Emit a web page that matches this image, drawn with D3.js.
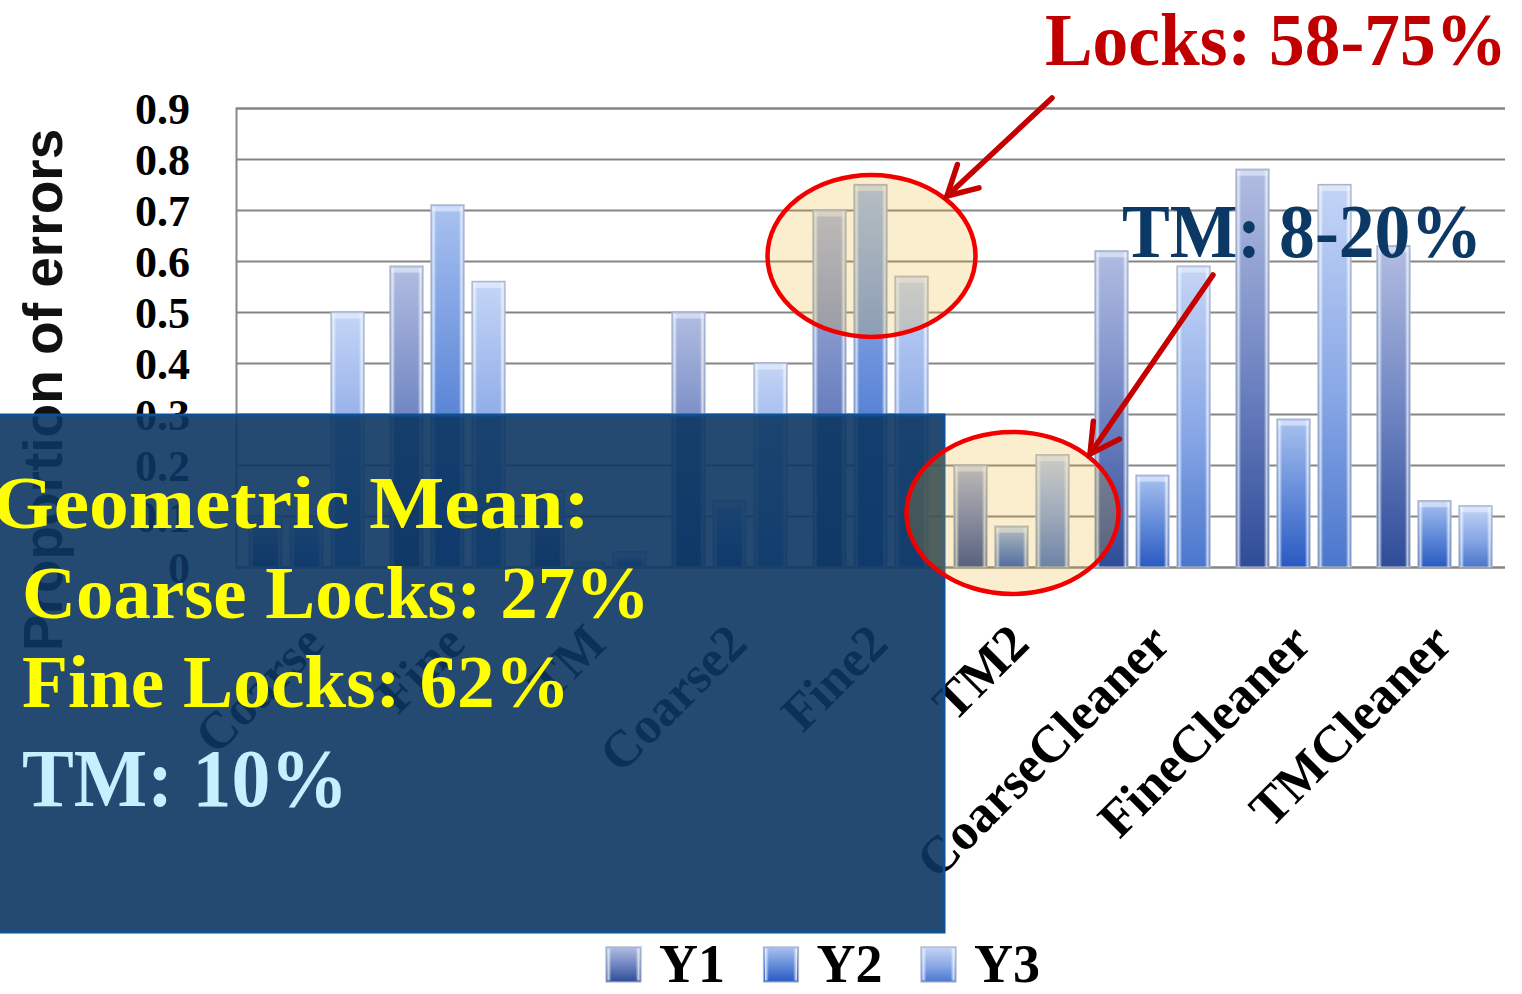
<!DOCTYPE html>
<html>
<head>
<meta charset="utf-8">
<script src="https://cdn.jsdelivr.net/npm/d3@7"></script>
<style>
  html, body { margin: 0; padding: 0; background: #ffffff; overflow: hidden; }
  svg { display: block; }
</style>
</head>
<body>
<svg id="chart" width="1522" height="994"></svg>
<script>
// ---- data ----
const categories = ["Coarse", "Fine", "TM", "Coarse2", "Fine2", "TM2", "CoarseCleaner", "FineCleaner", "TMCleaner"];
const seriesNames = ["Y1", "Y2", "Y3"];
const y1Values = [0.10, 0.59, 0.15, 0.50, 0.70, 0.20, 0.62, 0.78, 0.63];
const y2Values = [0.10, 0.71, 0.01, 0.13, 0.75, 0.08, 0.18, 0.29, 0.13];
const y3Values = [0.50, 0.56, 0.03, 0.40, 0.57, 0.22, 0.59, 0.75, 0.12];
const yTicks = [0, 0.1, 0.2, 0.3, 0.4, 0.5, 0.6, 0.7, 0.8, 0.9];
const yTickLabels = ["0", "0.1", "0.2", "0.3", "0.4", "0.5", "0.6", "0.7", "0.8", "0.9"];
const yTitle = "Proportion of errors";
const meanLines = ["Geometric Mean:", "Coarse Locks: 27%", "Fine Locks: 62%", "TM: 10%"];
const locksNote = "Locks: 58-75%";
const tmNote = "TM: 8-20%";

const seriesValues = [y1Values, y2Values, y3Values];
const rows = categories.map((c, i) => ({
  category: c,
  values: seriesNames.map((s, k) => ({ series: s, value: seriesValues[k][i] }))
}));

// ---- layout ----
const svg = d3.select("#chart");
const plot = { left: 236, right: 1505, top: 108, bottom: 567 };

const x0 = d3.scaleBand().domain(categories)
  .range([plot.left, plot.right]).paddingInner(0.184).paddingOuter(0.092);
const x1 = d3.scaleBand().domain(seriesNames)
  .range([0, x0.bandwidth()]).paddingInner(0.195).paddingOuter(0);
const y = d3.scaleLinear().domain([0, 0.9]).range([plot.bottom, plot.top]);

const serif = "'Liberation Serif', 'DejaVu Serif', serif";
const sans = "'Liberation Sans', Arial, sans-serif";

// ---- gradients for bar fills ----
const defs = svg.append("defs");
const gradStops = {
  Y1: ["#b2bde2", "#6a80bf", "#2f4c98"],
  Y2: ["#a9c2f0", "#5f88d8", "#2a5ac2"],
  Y3: ["#c5d5f6", "#88a7e6", "#4a76cc"]
};
seriesNames.forEach(s => {
  const g = defs.append("linearGradient").attr("id", "grad-" + s)
    .attr("x1", 0).attr("y1", 0).attr("x2", 0).attr("y2", 1);
  g.append("stop").attr("offset", "0%").attr("stop-color", gradStops[s][0]);
  g.append("stop").attr("offset", "55%").attr("stop-color", gradStops[s][1]);
  g.append("stop").attr("offset", "100%").attr("stop-color", gradStops[s][2]);
});
const edgeGrad = defs.append("linearGradient").attr("id", "edge")
  .attr("x1", 0).attr("y1", 0).attr("x2", 1).attr("y2", 0);
edgeGrad.append("stop").attr("offset", "0%").attr("stop-color", "#e8f6ff").attr("stop-opacity", 0.95);
edgeGrad.append("stop").attr("offset", "12%").attr("stop-color", "#ffffff").attr("stop-opacity", 0);
edgeGrad.append("stop").attr("offset", "88%").attr("stop-color", "#ffffff").attr("stop-opacity", 0);
edgeGrad.append("stop").attr("offset", "100%").attr("stop-color", "#f4f8ff").attr("stop-opacity", 0.95);

// ---- background ----
svg.append("rect").attr("width", 1522).attr("height", 994).attr("fill", "#ffffff");

// ---- grid and axis ----
const yAxis = d3.axisLeft(y).tickValues(yTicks)
  .tickSize(-(plot.right - plot.left)).tickFormat((d, i) => yTickLabels[i]).tickPadding(46);
const gAxis = svg.append("g").attr("transform", `translate(${plot.left},0)`).call(yAxis);
gAxis.select(".domain").attr("stroke", "#8a8a8a").attr("stroke-width", 2);
gAxis.selectAll(".tick line").attr("stroke", "#858585").attr("stroke-width", 2);
gAxis.selectAll(".tick text")
  .attr("font-family", serif).attr("font-weight", "bold").attr("font-size", 44)
  .attr("fill", "#000").attr("dy", "0.36em");

// ---- bars ----
const groups = svg.append("g").selectAll("g").data(rows).join("g")
  .attr("transform", d => `translate(${x0(d.category)},0)`);
const bars = groups.selectAll("g").data(d => d.values).join("g");
bars.append("rect")
  .attr("x", d => x1(d.series)).attr("y", d => y(d.value))
  .attr("width", x1.bandwidth()).attr("height", d => y(0) - y(d.value))
  .attr("fill", d => `url(#grad-${d.series})`)
  .attr("stroke", "#a9b4c8").attr("stroke-width", 1.2);
bars.append("rect")
  .attr("x", d => x1(d.series) + 1.5).attr("y", d => y(d.value) + 1.5)
  .attr("width", x1.bandwidth() - 3).attr("height", d => Math.max(0, y(0) - y(d.value) - 1.5))
  .attr("fill", "url(#edge)");
bars.append("rect")
  .attr("x", d => x1(d.series) + 1.5).attr("y", d => y(d.value) + 1.5)
  .attr("width", x1.bandwidth() - 3).attr("height", d => Math.min(5, Math.max(0, y(0) - y(d.value) - 1.5)))
  .attr("fill", "#eef4ff").attr("opacity", 0.55);

// ---- category labels ----
svg.append("g").selectAll("text").data(categories).join("text")
  .attr("transform", d => `translate(${x0(d) + x0.bandwidth() / 2 + 20},646) rotate(-45)`)
  .attr("text-anchor", "end")
  .attr("font-family", serif).attr("font-weight", "bold").attr("font-size", 52)
  .attr("fill", "#000").text(d => d);

// ---- y title ----
svg.append("text")
  .attr("transform", "translate(62,390) rotate(-90)")
  .attr("text-anchor", "middle")
  .attr("font-family", sans).attr("font-weight", "bold").attr("font-size", 55)
  .attr("fill", "#111").text(yTitle);

// ---- summary panel ----
svg.append("rect")
  .attr("x", -3).attr("y", 415).attr("width", 947).attr("height", 517)
  .attr("fill", "rgb(12,54,98)").attr("fill-opacity", 0.9)
  .attr("stroke", "#0f4f94").attr("stroke-width", 3);

const meanSpec = [
  { x: -8, y: 528, size: 74, len: 598, color: "#ffff00" },
  { x: 22, y: 618, size: 74, len: 628, color: "#ffff00" },
  { x: 22, y: 707, size: 74, len: 548, color: "#ffff00" },
  { x: 22, y: 806, size: 82, len: 326, color: "#c6f0ff" }
];
svg.append("g").selectAll("text").data(meanLines).join("text")
  .attr("x", (d, i) => meanSpec[i].x).attr("y", (d, i) => meanSpec[i].y)
  .attr("font-family", serif).attr("font-weight", "bold")
  .attr("font-size", (d, i) => meanSpec[i].size)
  .attr("textLength", (d, i) => meanSpec[i].len).attr("lengthAdjust", "spacingAndGlyphs")
  .attr("fill", (d, i) => meanSpec[i].color).text(d => d);

// ---- highlight ellipses around the Fine2 and TM2 groups ----
const highlight = [
  { cat: "Fine2", cy: 0.610, rx: 104, ry: 81 },
  { cat: "TM2", cy: 0.106, rx: 106, ry: 81 }
];
svg.append("g").selectAll("ellipse").data(highlight).join("ellipse")
  .attr("cx", d => x0(d.cat) + x0.bandwidth() / 2 + 1)
  .attr("cy", d => y(d.cy))
  .attr("rx", d => d.rx).attr("ry", d => d.ry)
  .attr("fill", "#e9b21e").attr("fill-opacity", 0.22)
  .attr("stroke", "#f20000").attr("stroke-width", 4.5);

// ---- arrows ----
function arrow(x1a, y1a, x2a, y2a) {
  const g = svg.append("g").attr("stroke", "#c40000").attr("stroke-width", 5.5)
    .attr("stroke-linecap", "round").attr("fill", "none");
  g.append("line").attr("x1", x1a).attr("y1", y1a).attr("x2", x2a).attr("y2", y2a);
  const ang = Math.atan2(y1a - y2a, x1a - x2a);
  const L = 33, spread = 0.5;
  const pts = [
    [x2a + L * Math.cos(ang + spread), y2a + L * Math.sin(ang + spread)],
    [x2a, y2a],
    [x2a + L * Math.cos(ang - spread), y2a + L * Math.sin(ang - spread)]
  ];
  g.append("path").attr("d", d3.line()(pts)).attr("stroke-linejoin", "miter");
}
arrow(1052, 98, 947, 196);
arrow(1213, 275, 1090, 454);

// ---- notes ----
svg.append("text").attr("x", 1045).attr("y", 65)
  .attr("font-family", serif).attr("font-weight", "bold").attr("font-size", 74)
  .attr("textLength", 462).attr("lengthAdjust", "spacingAndGlyphs")
  .attr("fill", "#c00000").text(locksNote);
svg.append("text").attr("x", 1122).attr("y", 257)
  .attr("font-family", serif).attr("font-weight", "bold").attr("font-size", 76)
  .attr("textLength", 360).attr("lengthAdjust", "spacingAndGlyphs")
  .attr("fill", "#0b3865").text(tmNote);

// ---- legend ----
const legendX = d3.scalePoint().domain(seriesNames).range([606, 921]);
const leg = svg.append("g").selectAll("g").data(seriesNames).join("g")
  .attr("transform", d => `translate(${legendX(d)},947)`);
leg.append("rect").attr("width", 35).attr("height", 35)
  .attr("fill", d => `url(#grad-${d})`).attr("stroke", "#a9b4c8").attr("stroke-width", 1.2);
leg.append("rect").attr("x", 1.5).attr("y", 1.5).attr("width", 32).attr("height", 32)
  .attr("fill", "url(#edge)");
leg.append("text").attr("x", 53).attr("y", 35)
  .attr("font-family", serif).attr("font-weight", "bold").attr("font-size", 54)
  .attr("fill", "#000").text(d => d);
</script>
</body>
</html>
